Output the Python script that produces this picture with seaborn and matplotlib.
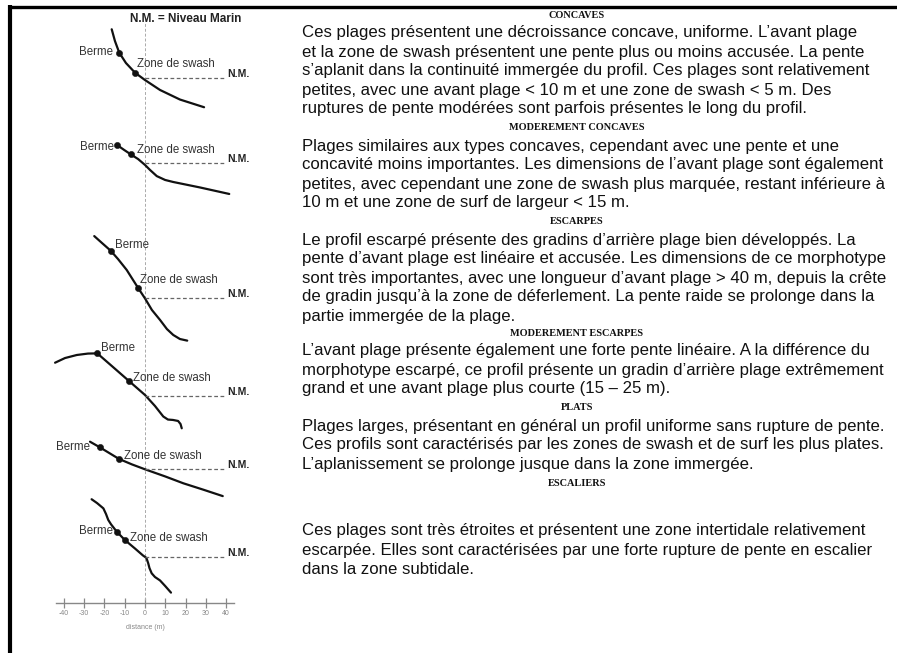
import matplotlib
matplotlib.use("Agg")
import numpy as np
import matplotlib.pyplot as plt
from matplotlib.lines import Line2D
import seaborn as sns

# profile data: distance (m) / elevation above N.M. (m)
concave_dist = [-16.4, -14.8, -12.7, -9.4, -4.9, 0.0, 7.4, 17.2, 29.1]
concave_elev = [24.0, 18.2, 12.5, 7.4, 2.6, -1.0, -5.9, -10.6, -14.4]
mod_concave_dist = [-13.6, -10.3, -7.0, -3.4, 0.0, 2.5, 5.8, 9.9, 13.9, 27.1, 41.5]
mod_concave_elev = [8.6, 6.3, 4.1, 1.8, -1.1, -3.6, -6.6, -8.5, -9.5, -12.2, -15.4]
escarpe_dist = [-25.0, -21.2, -16.9, -13.3, -9.0, -5.9, -3.3, 0.0, 3.4, 7.4, 10.8, 13.9, 17.2, 20.8]
escarpe_elev = [30.5, 27.1, 23.3, 19.2, 13.8, 8.9, 4.8, -0.2, -5.9, -10.8, -15.3, -18.2, -20.2, -21.0]
mod_escarpe_dist = [-44.3, -39.4, -33.6, -28.1, -23.5, -15.8, -7.9, 0.0, 4.9, 9.0, 11.3, 13.8, 16.3, 17.5, 18.1]
mod_escarpe_elev = [16.4, 18.7, 20.2, 20.9, 21.0, 14.3, 7.4, 0.5, -4.9, -10.1, -11.6, -11.8, -12.3, -13.8, -15.9]
plat_dist = [-27.1, -22.2, -12.8, -6.4, 0.0, 9.9, 18.9, 28.6, 38.3]
plat_elev = [13.6, 10.8, 5.1, 2.4, 0.0, -3.5, -6.9, -10.0, -13.2]
escalier_dist = [-26.3, -23.6, -20.5, -19.2, -18.1, -16.7, -15.6, -13.9, -9.9, -4.9, -1.0,
                 0.7, 1.6, 2.2, 3.3, 4.9, 7.4, 9.9, 12.8]
escalier_elev = [28.6, 26.7, 24.1, 21.3, 18.4, 16.2, 14.8, 12.6, 8.5, 4.3, 0.9,
                 -0.3, -3.0, -5.3, -7.9, -9.7, -11.4, -14.1, -17.4]

# berme / zone de swash points (distance, elevation)
berme_pts = [(-12.7, 12.5), (-13.6, 8.6), (-16.9, 23.3), (-23.5, 21.0), (-22.2, 10.8), (-13.9, 12.6)]
swash_pts = [(-4.9, 2.6), (-7.0, 4.1), (-3.3, 4.8), (-7.9, 7.4), (-12.8, 5.1), (-9.9, 8.5)]

dist_ticks = [-40, -30, -20, -10, 0, 10, 20, 30, 40]

headings = ["CONCAVES", "MODEREMENT CONCAVES", "ESCARPES",
            "MODEREMENT ESCARPES", "PLATS", "ESCALIERS"]
paragraphs = [
    ["Ces plages présentent une décroissance concave, uniforme. L’avant plage",
     "et la zone de swash présentent une pente plus ou moins accusée. La pente",
     "s’aplanit dans la continuité immergée du profil. Ces plages sont relativement",
     "petites, avec une avant plage < 10 m et une zone de swash < 5 m. Des",
     "ruptures de pente modérées sont parfois présentes le long du profil."],
    ["Plages similaires aux types concaves, cependant avec une pente et une",
     "concavité moins importantes. Les dimensions de l’avant plage sont également",
     "petites, avec cependant une zone de swash plus marquée, restant inférieure à",
     "10 m et une zone de surf de largeur < 15 m."],
    ["Le profil escarpé présente des gradins d’arrière plage bien développés. La",
     "pente d’avant plage est linéaire et accusée. Les dimensions de ce morphotype",
     "sont très importantes, avec une longueur d’avant plage > 40 m, depuis la crête",
     "de gradin jusqu’à la zone de déferlement. La pente raide se prolonge dans la",
     "partie immergée de la plage."],
    ["L’avant plage présente également une forte pente linéaire. A la différence du",
     "morphotype escarpé, ce profil présente un gradin d’arrière plage extrêmement",
     "grand et une avant plage plus courte (15 – 25 m)."],
    ["Plages larges, présentant en général un profil uniforme sans rupture de pente.",
     "Ces profils sont caractérisés par les zones de swash et de surf les plus plates.",
     "L’aplanissement se prolonge jusque dans la zone immergée."],
    ["Ces plages sont très étroites et présentent une zone intertidale relativement",
     "escarpée. Elles sont caractérisées par une forte rupture de pente en escalier",
     "dans la zone subtidale."],
]

# layout (pixels of the 897x653 picture)
W, H = 897, 653
PX_PER_M = 2.03
X0_PX = 145
nm_rows_px = [78, 162.7, 298, 396, 469.3, 557.3]
axis_row_px = 603
heading_rows_px = [15, 127, 221, 333, 407, 483]
para_first_px = [33, 146, 240, 351, 426, 531]
line_step = 19
# label offsets in pixels: (ha, dx, dy) for berme, then for swash
berme_lbl = [("right", -6, 1), ("right", -3, -2), ("left", 4, 6),
             ("left", 4, 5), ("right", -10, 0), ("right", -4, 1)]
swash_lbl = [(2, 9), (6, 4), (2, 8), (4, 3), (5, 3), (5, 2)]

sns.set_theme(style="white")
plt.rcParams['font.family'] = ['Liberation Sans', 'DejaVu Sans']

fig = plt.figure(figsize=(W / 100, H / 100), dpi=100)
fig.patch.set_facecolor("white")

ax = fig.add_axes([0, 0, 290 / W, 1])
ax.set_facecolor("none")
half = X0_PX / PX_PER_M
ax.set_xlim(-half, half)
ax.set_ylim(-H / PX_PER_M, 0)

def row(py):
    return -py / PX_PER_M

# vertical reference at 0 m
ax.vlines(0, row(axis_row_px - 3), row(18), colors="#aaaaaa", lw=0.7, linestyles=(0, (3, 2)))

profiles = [(concave_dist, concave_elev), (mod_concave_dist, mod_concave_elev),
            (escarpe_dist, escarpe_elev), (mod_escarpe_dist, mod_escarpe_elev),
            (plat_dist, plat_elev), (escalier_dist, escalier_elev)]

for i, (d, e) in enumerate(profiles):
    base = row(nm_rows_px[i])
    sns.lineplot(x=d, y=np.array(e) + base, sort=False, estimator=None,
                 color="#111111", lw=1.6, ax=ax)
    ax.hlines(base, 0, 40, colors="#666666", lw=0.9, linestyles=(0, (3, 2)))
    ax.annotate("N.M.", (40.5, base), xytext=(0, 4), textcoords="offset pixels",
                ha="left", va="center", fontsize=7.5, fontweight="bold", color="#222222")
    bx, be = berme_pts[i]
    sx, se = swash_pts[i]
    sns.scatterplot(x=[bx, sx], y=[be + base, se + base], s=20, color="#111111",
                    edgecolor="#111111", zorder=3, ax=ax, legend=False)
    ha, dx, dy = berme_lbl[i]
    ax.annotate("Berme", (bx, be + base), xytext=(dx, dy), textcoords="offset pixels",
                ha=ha, va="center", fontsize=8.3, color="#333333")
    dx, dy = swash_lbl[i]
    ax.annotate("Zone de swash", (sx, se + base), xytext=(dx, dy), textcoords="offset pixels",
                ha="left", va="center", fontsize=8.3, color="#333333")

ax.text(20, row(19), "N.M. = Niveau Marin", ha="center", va="center",
        fontsize=8.5, fontweight="bold", color="#222222")

# distance axis
for s in ["left", "right", "top"]:
    ax.spines[s].set_visible(False)
ax.spines["bottom"].set_position(("data", row(axis_row_px)))
ax.spines["bottom"].set_bounds(-44, 44)
ax.spines["bottom"].set_color("#888888")
ax.spines["bottom"].set_linewidth(1.0)
ax.set_xticks(dist_ticks)
ax.set_xticklabels([str(t) for t in dist_ticks])
ax.tick_params(axis="x", direction="inout", length=7, width=0.9, colors="#888888",
               labelsize=5, pad=1.5, bottom=True)
ax.set_yticks([])
ax.set_xlabel("distance (m)", fontsize=5, color="#888888", labelpad=5)

# text panel
renderer = fig.canvas.get_renderer()

def fit_size(txt, target, **kw):
    t = fig.text(0, 0, txt, fontsize=10, **kw)
    w = t.get_window_extent(renderer).width
    t.remove()
    return 10 * target / w

body_size = fit_size(paragraphs[0][0], 556, family=['Liberation Sans'])
head_size = fit_size(headings[1], 136, family=['Liberation Serif'], fontweight="bold")

for i, head in enumerate(headings):
    fig.text(577 / W, 1 - heading_rows_px[i] / H, head, ha="center", va="center",
             family=['Liberation Serif', 'DejaVu Serif'], fontweight="bold",
             fontsize=head_size, color="#111111")
    for j, line in enumerate(paragraphs[i]):
        py = para_first_px[i] + j * line_step
        fig.text(302 / W, 1 - py / H, line, ha="left", va="center",
                 fontsize=body_size, color="#111111")

# frame
fig.add_artist(Line2D([8 / W, 1], [1 - 6.5 / H, 1 - 6.5 / H], color="black", lw=2.4,
                      solid_capstyle="butt", transform=fig.transFigure))
fig.add_artist(Line2D([10 / W, 10 / W], [0, 1 - 5 / H], color="black", lw=3.0,
                      solid_capstyle="butt", transform=fig.transFigure))

fig.savefig("out.png", dpi=100, facecolor="white")
